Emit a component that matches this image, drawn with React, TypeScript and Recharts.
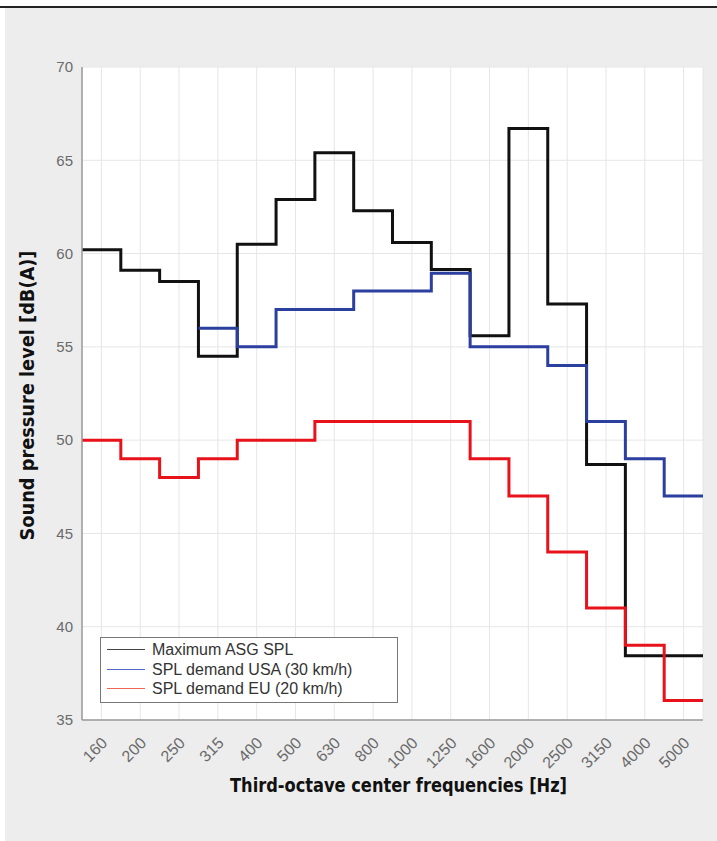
import React from 'react';
import {
  LineChart,
  Line,
  XAxis,
  YAxis,
  CartesianGrid,
  Legend,
} from 'recharts';

// third-octave bands
const BANDS = ['160', '200', '250', '315', '400', '500', '630', '800', '1000', '1250', '1600', '2000', '2500', '3150', '4000', '5000'];
const MAX_ASG = [60.2, 59.1, 58.5, 54.5, 60.5, 62.9, 65.4, 62.3, 60.6, 59.15, 55.6, 66.7, 57.3, 48.7, 38.45, 38.45];
const USA_DEMAND = [null, null, null, 56, 55, 57, 57, 58, 58, 58.95, 55, 55, 54, 51, 49, 47];
const EU_DEMAND = [50, 49, 48, 49, 50, 50, 51, 51, 51, 51, 49, 47, 44, 41, 39, 36.05];
const Y_TICKS = [35, 40, 45, 50, 55, 60, 65, 70];

const SERIES = [
  { key: 'asg', name: 'Maximum ASG SPL', color: '#111111', legendColor: '#444444' },
  { key: 'usa', name: 'SPL demand USA (30 km/h)', color: '#2b3f9e', legendColor: '#5566cc' },
  { key: 'eu', name: 'SPL demand EU (20 km/h)', color: '#e8121b', legendColor: '#ee6655' },
];

// one point per band edge; the last edge repeats the last band for stepAfter
const rows = Array.from({ length: BANDS.length + 1 }, (_, i) => {
  const j = Math.min(i, BANDS.length - 1);
  return { x: i, asg: MAX_ASG[j], usa: USA_DEMAND[j], eu: EU_DEMAND[j] };
});

const bandTicks = BANDS.map((_, i) => i + 0.5);

const FONT = "'Liberation Sans', Arial, sans-serif";
const TITLE_FONT = "'DejaVu Sans Condensed', 'DejaVu Sans', sans-serif";

// y arrives already pushed down by tickSize + tickMargin (8px)
const XTick = (props: any) => {
  const { x, y, payload } = props;
  const label = BANDS[Math.floor(payload.value)];
  return (
    <g transform={`translate(${x + 7},${y + 16}) rotate(-45)`}>
      <text x={0} y={0} textAnchor="end" fill="#6a6a6a" fontSize={16} fontFamily={FONT}>
        {label}
      </text>
    </g>
  );
};

const XTitle = (props: any) => {
  const { viewBox } = props;
  const cx = viewBox.x + viewBox.width / 2 + 6;
  return (
    <text
      x={cx}
      y={792}
      textAnchor="middle"
      textLength={337}
      lengthAdjust="spacingAndGlyphs"
      fontFamily={TITLE_FONT}
      fontStretch="condensed"
      fontWeight="bold"
      fontSize={20}
      fill="#111"
    >
      Third-octave center frequencies [Hz]
    </text>
  );
};

const YTitle = (props: any) => {
  const { viewBox } = props;
  const cy = viewBox.y + viewBox.height / 2 + 2;
  return (
    <text
      transform={`translate(34,${cy}) rotate(-90)`}
      x={0}
      y={0}
      textAnchor="middle"
      textLength={290}
      lengthAdjust="spacingAndGlyphs"
      fontFamily={TITLE_FONT}
      fontStretch="condensed"
      fontWeight="bold"
      fontSize={20}
      fill="#111"
    >
      Sound pressure level [dB(A)]
    </text>
  );
};

const LegendBox = () => (
  <div
    style={{
      width: 298,
      height: 66,
      boxSizing: 'border-box',
      border: '1px solid #777',
      background: '#fff',
      padding: '2px 0 0 6px',
      fontFamily: FONT,
      fontSize: 16,
      color: '#333',
      lineHeight: '19.5px',
    }}
  >
    {SERIES.map((s) => (
      <div key={s.key} style={{ display: 'flex', alignItems: 'center' }}>
        <span style={{ display: 'inline-block', width: 38, height: 0, borderTop: `1.5px solid ${s.legendColor}`, marginRight: 7 }} />
        <span>{s.name}</span>
      </div>
    ))}
  </div>
);

export default function App() {
  return (
    <div style={{ position: 'relative', width: 717, height: 841, background: '#fff', overflow: 'hidden' }}>
      <style>{`body{margin:0}`}</style>
      <div style={{ position: 'absolute', left: 0, top: 6, width: 717, height: 2, background: '#222' }} />
      <div style={{ position: 'absolute', left: 5, top: 8, width: 712, height: 833, background: '#ededed' }} />
      <div style={{ position: 'absolute', left: 0, top: 0 }}>
        <LineChart width={717} height={841} data={rows} margin={{ top: 67, right: 14, left: 22, bottom: 41 }}>
          <CartesianGrid stroke="#e6e6e6" fill="#ffffff" strokeWidth={1} />
          <XAxis
            dataKey="x"
            type="number"
            domain={[0, 16]}
            ticks={bandTicks}
            interval={0}
            tick={<XTick />}
            tickLine={false}
            axisLine={{ stroke: '#9a9a9a', strokeWidth: 1.5 }}
            height={80}
            label={<XTitle />}
          />
          <YAxis
            type="number"
            domain={[35, 70]}
            ticks={Y_TICKS}
            interval={0}
            width={60}
            tickLine={false}
            tickMargin={3}
            axisLine={{ stroke: '#9a9a9a', strokeWidth: 1.5 }}
            tick={{ fill: '#6a6a6a', fontSize: 15, fontFamily: FONT }}
            label={<YTitle />}
          />
          <Legend
            layout="vertical"
            align="center"
            verticalAlign="middle"
            content={<LegendBox />}
            wrapperStyle={{ position: 'absolute', left: 100, top: 637, width: 298, height: 66 }}
          />
          {SERIES.map((s) => (
            <Line
              key={s.key}
              type="stepAfter"
              dataKey={s.key}
              name={s.name}
              stroke={s.color}
              strokeWidth={3}
              strokeLinejoin="miter"
              dot={false}
              activeDot={false}
              connectNulls={false}
              isAnimationActive={false}
            />
          ))}
        </LineChart>
      </div>
    </div>
  );
}
